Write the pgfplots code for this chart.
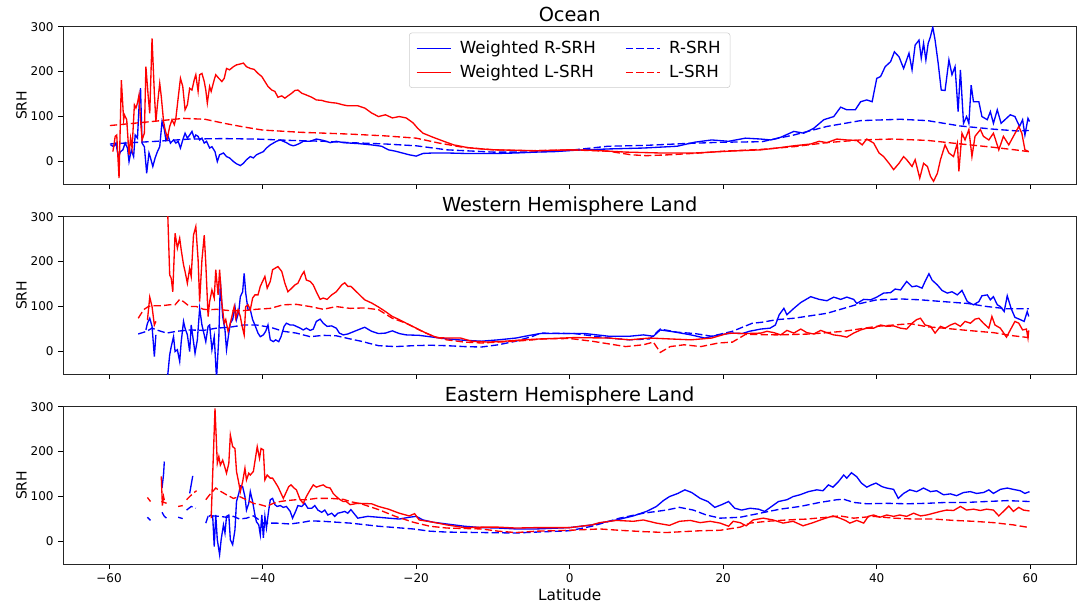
\documentclass[border=0pt]{standalone}
\usepackage{fontspec}
\setmainfont{DejaVu Sans}
\usepackage{pgfplots}
\pgfplotsset{compat=1.18}

\tikzset{
  srhWR/.style={blue, line width=1pt, solid},
  srhWL/.style={red, line width=1pt, solid},
  srhR/.style={blue, line width=1pt, dash pattern=on 5.5pt off 2.4pt},
  srhL/.style={red, line width=1pt, dash pattern=on 5.5pt off 2.4pt},
}
\pgfplotsset{
  srh/.style={
    scale only axis, width=760pt, height=118pt,
    xmin=-66, xmax=66, ymin=-50, ymax=300,
    xtick={-60,-40,-20,0,20,40,60},
    ytick={0,100,200,300}, yticklabels={0,100,200,300},
    tick align=outside, xtick pos=bottom, ytick pos=left,
    major tick length=3.5pt,
    tick style={black, line width=0.6pt},
    axis line style={black!85, line width=0.6pt},
    tick label style={font=\fontsize{9}{10}\selectfont},
    ylabel={SRH}, ylabel style={font=\fontsize{10.5}{12}\selectfont}, ylabel shift=-4pt,
    every axis title/.style={at={(0.5,1)}, anchor=base, yshift=4pt,
      font=\fontsize{14.5}{16}\selectfont},
    unbounded coords=jump,
  },
}

\begin{document}
\begin{tikzpicture}
\useasboundingbox (-47.25pt,20pt) rectangle (761.25pt,-432.25pt);

% Ocean
\begin{axis}[srh, at={(0pt,0pt)}, anchor=north west, title={Ocean}, xticklabels={},
  legend columns=2, legend cell align=left,
  legend image code/.code={\draw[#1] (0pt,0pt) -- (26pt,0pt);},
  legend style={at={(0.5,0.962)}, anchor=north, draw=black!20, rounded corners=2pt,
    font=\fontsize{12.5}{14}\selectfont, inner xsep=5pt, inner ysep=4pt, row sep=3pt,
    /tikz/every odd column/.append style={column sep=4pt},
    /tikz/every even column/.append style={column sep=20pt}}]
\addplot[srhWR] coordinates {
(-59.8,37) (-59.4,33) (-59.1,41) (-58.8,11) (-58.5,22) (-58.2,26) (-57.9,41) (-57.6,30) (-57.4,0) (-57.1,26) (-56.8,11) (-56.6,59) (-56.3,52) (-56.1,120) (-55.9,163) (-55.7,41) (-55.4,33) (-55.1,-26) (-54.8,19) (-54.6,8) (-54.3,-11) (-54.0,8) (-53.7,22) (-53.4,33) (-53.1,89) (-52.8,71) (-52.6,48) (-52.3,56) (-52.0,41) (-51.6,48) (-51.3,41) (-51.0,45) (-50.7,30) (-50.4,48) (-50.1,63) (-49.8,52) (-49.5,59) (-49.2,67) (-48.9,52) (-48.7,59) (-48.4,56) (-48.2,48) (-47.9,52) (-47.6,41) (-47.3,45) (-46.9,30) (-46.6,33) (-46.2,22) (-45.9,0) (-45.6,15) (-45.1,19) (-44.7,11) (-44.3,8) (-43.8,0) (-43.4,-5) (-42.9,-9) (-42.5,-4) (-42.1,4) (-41.6,11) (-41.2,8) (-40.8,15) (-40.3,19) (-39.9,22) (-39.5,30) (-39.0,37) (-38.6,41) (-38.2,45) (-37.7,48) (-37.3,45) (-36.9,42) (-36.4,37) (-36.0,35) (-35.6,37) (-35.1,41) (-34.7,45) (-33.8,45) (-33.0,50) (-32.1,47) (-31.2,42) (-30.4,45) (-29.5,42) (-28.6,41) (-27.6,40) (-25.8,37) (-24.5,34) (-23.6,26) (-22.7,23) (-21.8,19) (-20.9,15) (-20.0,12) (-19.1,18) (-17.8,19) (-16.0,19) (-13.7,18) (-11.5,18) (-9.3,18) (-7.0,19) (-4.3,21) (-2,22) (0.6,25) (5.1,28) (9.6,30) (14.0,34) (16.3,43) (18.5,48) (20.7,45) (22.9,52) (24.9,50) (26.2,48) (27.5,54) (29.2,67) (30.5,63) (31.8,74) (33.1,93) (34.4,100) (35.3,121) (36.1,115) (37.2,115) (37.9,133) (38.7,137) (39.4,133) (40.0,185) (40.5,189) (41.1,211) (41.8,222) (42.3,244) (42.9,233) (43.5,207) (44.2,241) (44.6,204) (45.0,259) (45.5,270) (45.8,230) (46.1,263) (46.4,226) (46.7,263) (47.0,278) (47.3,299) (47.6,270) (48.0,219) (48.4,159) (48.9,158) (49.4,226) (49.8,193) (50.2,211) (50.6,111) (50.9,204) (51.3,85) (51.7,100) (52.0,85) (52.3,170) (52.6,133) (53.3,133) (53.7,100) (54.4,93) (54.8,111) (55.2,85) (55.7,115) (56.2,85) (56.7,93) (57.4,104) (58.0,100) (58.6,78) (59.0,93) (59.3,59) (59.7,96) (59.9,89)
};
\addlegendentry{Weighted R-SRH}
\addplot[srhR] coordinates {
(-59.9,39) (-57,42) (-53.8,45) (-49.5,50) (-45.1,51) (-40.8,50) (-36.4,47) (-32,45) (-28.6,42) (-24,39) (-20,35) (-16,26) (-10,21) (-5,21) (0,25) (5,34) (10,36) (15,40) (20,43) (25,44) (29.2,59) (33.5,78) (37.9,91) (43.1,94) (46.6,91) (50.9,79) (55.2,72) (58.3,68) (59.8,69)
};
\addlegendentry{R-SRH}
\addplot[srhWL] coordinates {
(-59.5,22) (-59.2,56) (-59.0,59) (-58.7,-37) (-58.4,181) (-58.1,93) (-58.0,104) (-57.7,93) (-57.4,15) (-57.2,52) (-57.0,30) (-56.7,126) (-56.5,119) (-56.3,130) (-56.1,148) (-55.9,93) (-55.7,48) (-55.4,63) (-55.2,211) (-54.9,145) (-54.7,107) (-54.4,274) (-54.1,152) (-53.9,89) (-53.7,126) (-53.4,174) (-53.2,145) (-52.9,89) (-52.7,71) (-52.4,52) (-52.1,78) (-51.8,93) (-51.5,82) (-51.3,96) (-51.0,141) (-50.7,185) (-50.4,167) (-50.1,115) (-49.8,126) (-49.5,163) (-49.2,159) (-48.9,182) (-48.7,193) (-48.4,156) (-48.2,193) (-47.9,196) (-47.6,178) (-47.4,159) (-47.2,130) (-46.9,167) (-46.7,156) (-46.3,182) (-46.1,193) (-45.7,185) (-45.3,178) (-45.0,185) (-44.7,207) (-44.3,204) (-43.8,211) (-43.4,215) (-42.9,217) (-42.5,219) (-42.1,211) (-41.6,207) (-41.1,205) (-40.6,196) (-40.1,189) (-39.7,178) (-39.3,167) (-38.8,159) (-38.4,156) (-38.0,143) (-37.5,146) (-37.1,141) (-36.7,146) (-36.2,152) (-35.8,158) (-35.4,159) (-34.9,152) (-34.3,148) (-33.6,143) (-33.0,137) (-32.3,136) (-31.7,133) (-31.0,131) (-30.4,130) (-29.5,126) (-28.9,124) (-27.6,124) (-26.7,119) (-25.8,108) (-24.9,100) (-24.0,104) (-23.1,97) (-22.2,100) (-21.3,97) (-20.4,86) (-19.8,74) (-19.1,63) (-17.8,54) (-16.4,45) (-15.1,37) (-13.3,31) (-11.5,28) (-9.7,26) (-7.0,25) (-4.3,24) (0,26) (2.9,25) (7.3,21) (11.8,19) (16.3,19) (20.7,23) (24.9,26) (27.0,30) (29.2,35) (31.4,39) (32.5,45) (33.5,42) (34.8,50) (36.1,48) (37.4,47) (38.1,37) (38.7,50) (39.6,41) (40.3,19) (40.9,11) (41.6,-4) (42.2,-18) (42.9,-4) (43.5,11) (43.9,4) (44.6,-11) (45.0,4) (45.6,-37) (46.1,-4) (46.6,-11) (47.0,-33) (47.4,-44) (47.9,-26) (48.3,4) (48.9,37) (49.4,19) (50.0,11) (50.5,41) (50.7,-22) (51.1,63) (51.5,48) (52.0,71) (52.4,11) (52.8,56) (53.5,71) (53.9,56) (54.6,48) (55.2,63) (55.9,26) (56.5,56) (57.2,37) (57.8,56) (58.5,78) (58.9,63) (59.3,26) (59.8,22)
};
\addlegendentry{Weighted L-SRH}
\addplot[srhL] coordinates {
(-59.9,80) (-55,88) (-50.3,96) (-47.5,94) (-45,85) (-42.5,77) (-40,70) (-35,65) (-28.6,61) (-24,57) (-20,52) (-17,41) (-14,32) (-10,26) (-5,24) (0,26) (5,23) (8,15) (10,13) (13,15) (17,19) (20,23) (25,27) (29.2,33) (33.5,42) (37.9,48) (42,50) (46.6,47) (51,39) (55,32) (58,26) (59.8,22)
};
\addlegendentry{L-SRH}
\end{axis}

% Western Hemisphere Land
\begin{axis}[srh, at={(0pt,-142.5pt)}, anchor=north west, title={Western Hemisphere Land}, xticklabels={}]
\addplot[srhWR] coordinates {
(-55.2,48) (-55.0,63) (-54.7,74) (-54.4,56) (-54.1,-11) (-53.9,37) (-53.5,nan)
(-52.4,-60) (-52.1,-7) (-51.9,11) (-51.6,33) (-51.4,0) (-51.1,4) (-50.8,-22) (-50.6,22) (-50.3,67) (-50.1,52) (-49.8,37) (-49.5,0) (-49.3,59) (-49.0,22) (-48.8,-4) (-48.5,26) (-48.2,96) (-47.9,59) (-47.6,37) (-47.4,22) (-47.1,56) (-46.9,59) (-46.6,4) (-46.3,33) (-46.0,-60) (-45.7,33) (-45.5,156) (-45.2,78) (-44.9,48) (-44.7,4) (-44.4,41) (-44.2,63) (-43.9,71) (-43.6,100) (-43.4,71) (-43.1,89) (-42.9,122) (-42.6,133) (-42.4,174) (-42.2,130) (-41.9,93) (-41.6,93) (-41.3,71) (-41.0,59) (-40.6,41) (-40.3,33) (-39.9,37) (-39.6,45) (-39.3,59) (-39.0,26) (-38.6,22) (-38.3,26) (-37.9,22) (-37.6,33) (-37.2,56) (-36.9,63) (-36.4,59) (-36.0,59) (-35.6,56) (-35.1,52) (-34.7,48) (-34.3,52) (-33.8,47) (-33.4,50) (-33.0,67) (-32.5,72) (-32.1,63) (-31.6,56) (-31.0,57) (-30.4,52) (-30.0,41) (-29.5,37) (-28.9,39) (-27.6,48) (-26.7,54) (-25.8,45) (-24.9,40) (-24.0,41) (-23.1,46) (-22.2,40) (-21.3,37) (-19.6,36) (-17.8,32) (-16.0,28) (-13.7,25) (-11.5,23) (-9.3,26) (-7.0,30) (-5.2,36) (-3.8,40) (-1.2,40) (2.0,40) (5.1,34) (7.8,34) (9.6,37) (10.9,34) (11.8,48) (13.1,45) (14.5,41) (15.8,37) (17.6,30) (19.4,37) (21.2,41) (22.5,40) (23.4,45) (24.9,50) (26.1,52) (26.8,59) (27.3,82) (27.9,96) (28.3,82) (29.2,96) (30.1,109) (31.4,122) (32.5,116) (33.5,113) (34.4,121) (35.3,116) (36.1,121) (37.0,116) (37.4,107) (38.3,116) (39.2,115) (40.0,121) (40.9,130) (41.8,131) (42.4,139) (43.1,137) (43.9,156) (44.6,144) (45.2,146) (45.9,141) (46.3,156) (46.8,173) (47.2,159) (47.9,148) (48.5,136) (49.2,130) (49.8,133) (50.5,126) (51.1,136) (51.8,111) (52.6,104) (53.3,111) (53.7,124) (54.4,126) (54.8,115) (55.2,122) (55.7,104) (56.1,100) (56.6,89) (57.0,124) (57.5,96) (58.0,76) (58.7,71) (59.2,67) (59.6,89) (59.8,78)
};
\addplot[srhR] coordinates {
(-56.2,39) (-55.1,45) (-54.4,52) (-53.8,48) (-52.5,41) (-51.2,45) (-49.5,48) (-47.7,47) (-46.0,52) (-44.3,54) (-42.5,59) (-40.8,59) (-39.0,54) (-37.3,45) (-35.6,41) (-33.8,33) (-32.1,36) (-30.4,35) (-28.6,28) (-27.2,23) (-24.9,13) (-22.7,11) (-20.4,13) (-18.2,14) (-16.0,13) (-13.7,11) (-11.5,10) (-9.3,15) (-7.0,23) (-4.8,34) (-3.8,41) (0.6,40) (5.1,30) (7.8,26) (10.4,28) (11.8,50) (14.0,43) (16.3,40) (18.5,34) (21.2,45) (23.8,63) (25,65) (27.0,71) (29.2,74) (33.5,85) (35.7,96) (37.9,107) (40.0,115) (43.1,117) (45.7,115) (48.7,111) (51.8,107) (54.4,100) (57.0,95) (59.8,95)
};
\addplot[srhWL] coordinates {
(-55.0,70) (-54.7,121) (-54.4,100) (-54.1,59) (-53.9,67) (-53.5,nan)
(-52.4,330) (-52.1,170) (-51.9,163) (-51.7,133) (-51.4,263) (-51.1,230) (-50.8,252) (-50.6,226) (-50.3,193) (-50.1,178) (-49.8,152) (-49.5,185) (-49.3,167) (-49.0,259) (-48.7,278) (-48.4,204) (-48.2,111) (-47.9,204) (-47.6,259) (-47.4,196) (-47.1,78) (-46.9,111) (-46.6,137) (-46.3,119) (-46.1,182) (-45.8,126) (-45.6,182) (-45.3,107) (-45.0,63) (-44.8,71) (-44.5,45) (-44.3,56) (-44.0,78) (-43.7,100) (-43.5,74) (-43.2,93) (-42.9,78) (-42.7,59) (-42.4,37) (-42.2,100) (-41.9,104) (-41.6,93) (-41.3,119) (-41.0,126) (-40.6,126) (-40.3,145) (-40.0,156) (-39.7,167) (-39.4,141) (-39.0,156) (-38.7,182) (-38.4,185) (-38.0,189) (-37.5,178) (-37.1,152) (-36.7,133) (-36.2,141) (-35.8,148) (-35.4,152) (-34.9,170) (-34.6,178) (-34.3,159) (-33.8,156) (-33.4,148) (-33.0,133) (-32.5,116) (-32.1,119) (-31.6,116) (-31.0,126) (-30.4,133) (-29.7,148) (-29.3,153) (-28.9,145) (-28.5,145) (-27.6,130) (-26.7,115) (-25.8,108) (-24.9,99) (-24.0,89) (-23.1,78) (-22.2,71) (-21.3,63) (-20.0,52) (-18.7,41) (-17.3,31) (-16.0,30) (-14.2,30) (-12.8,23) (-10.6,21) (-8.4,23) (-6.1,26) (-3.8,28) (0.6,31) (5.1,30) (7.8,26) (10.4,30) (13.1,28) (15.8,26) (18.5,30) (20.7,41) (22.9,40) (24.9,41) (25.7,45) (26.6,42) (27.5,37) (28.3,47) (29.2,41) (30.1,50) (30.9,42) (31.8,39) (32.7,47) (33.5,42) (34.4,37) (35.3,35) (36.1,32) (37.0,41) (37.9,48) (38.7,52) (39.6,52) (40.5,59) (41.3,56) (42.2,57) (43.1,52) (43.9,50) (44.6,63) (45.2,71) (45.7,74) (46.3,59) (47.0,56) (47.6,41) (48.3,56) (48.9,52) (49.6,59) (50.2,63) (50.9,56) (51.5,67) (52.2,63) (52.8,72) (53.3,74) (53.9,63) (54.6,52) (55.0,78) (55.4,59) (56.1,52) (56.9,32) (57.4,48) (58.0,67) (58.5,63) (59.0,48) (59.5,50) (59.7,30) (59.8,47)
};
\addplot[srhL] coordinates {
(-56.2,74) (-55.5,93) (-54.9,100) (-54.0,102) (-53.1,102) (-52.1,104) (-51.4,104) (-50.8,116) (-50.3,111) (-49.5,100) (-48.6,100) (-47.7,94) (-46.9,93) (-46.0,94) (-44.3,91) (-42.5,91) (-40.8,94) (-39.0,96) (-37.3,104) (-35.6,105) (-33.8,100) (-32.1,94) (-30.4,100) (-28.6,96) (-26.7,97) (-24.9,93) (-23.1,74) (-21.3,63) (-19.6,48) (-17.8,34) (-16.0,26) (-13.7,21) (-11.5,19) (-9.3,21) (-7.0,23) (-4.8,26) (-3.8,28) (0,29) (2.9,23) (5.1,17) (7.3,11) (9.6,15) (10.9,21) (11.8,-2) (13.1,11) (14.9,15) (17.1,11) (19.4,19) (21.2,21) (22.9,38) (24,38) (27.0,37) (31.4,39) (35.7,45) (40.0,56) (44.4,62) (46.6,55) (48.7,52) (51.8,47) (55.2,42) (57.8,35) (59.8,31)
};
\end{axis}

% Eastern Hemisphere Land
\begin{axis}[srh, at={(0pt,-285pt)}, anchor=north west, title={Eastern Hemisphere Land},
  xticklabels={−60,−40,−20,0,20,40,60},
  xlabel={Latitude}, xlabel style={font=\fontsize{11.5}{13}\selectfont, yshift=2pt}]
\addplot[srhWR] coordinates {
(-53.1,119) (-52.9,150) (-52.8,178) (-52.0,nan)
(-49.5,107) (-49.1,146) (-48.0,nan)
(-47.0,56) (-46.7,59) (-46.5,56) (-46.3,-11) (-46.1,59) (-45.9,4) (-45.6,-29) (-45.4,4) (-45.1,37) (-44.9,19) (-44.7,56) (-44.4,59) (-44.2,4) (-43.9,-7) (-43.6,26) (-43.4,89) (-43.1,107) (-42.9,124) (-42.6,122) (-42.3,100) (-42.1,70) (-41.8,85) (-41.6,111) (-41.3,89) (-41.0,59) (-40.8,44) (-40.5,37) (-40.3,15) (-40.1,59) (-39.9,8) (-39.7,56) (-39.5,30) (-39.2,70) (-39.0,93) (-38.7,96) (-38.4,82) (-38.1,78) (-37.7,80) (-37.3,76) (-36.9,78) (-36.4,67) (-36.1,52) (-35.7,67) (-35.4,80) (-34.9,78) (-34.5,85) (-34.1,74) (-33.6,74) (-33.2,80) (-32.8,70) (-32.3,65) (-31.9,70) (-31.5,59) (-31.0,63) (-30.6,56) (-30.2,63) (-29.7,65) (-29.3,67) (-28.9,63) (-28.5,71) (-27.6,52) (-26.3,56) (-24.9,54) (-23.6,52) (-22.2,50) (-20.9,54) (-20.0,56) (-19.1,48) (-17.8,43) (-16.0,39) (-13.7,34) (-11.5,31) (-9.3,30) (-7.0,28) (-4.3,28) (0,31) (2.9,37) (3.9,41) (6.1,48) (8.3,57) (10.0,67) (11.3,78) (12.2,91) (13.0,100) (14.1,107) (15.0,115) (15.9,109) (17.0,96) (18.0,89) (18.9,76) (19.8,82) (20.7,89) (21.5,74) (22.4,70) (23.5,74) (24.6,72) (25.4,67) (26.3,78) (27.2,89) (28.3,93) (29.1,100) (30.0,104) (31.1,111) (32.2,115) (33.0,113) (33.7,126) (34.3,121) (35.0,133) (35.7,148) (36.1,141) (36.7,153) (37.4,144) (38.0,130) (38.7,121) (39.3,126) (39.9,130) (40.7,122) (41.3,119) (42.2,116) (42.8,96) (43.5,107) (44.3,115) (45.2,111) (46.1,119) (47.0,111) (47.8,113) (48.7,104) (49.6,106) (50.4,102) (51.3,109) (52.2,111) (53.0,107) (53.9,109) (54.6,115) (55.2,107) (56.1,116) (57.0,119) (57.8,116) (58.7,113) (59.3,107) (59.9,111)
};
\addplot[srhR] coordinates {
(-55.0,54) (-54.6,47) (-54.0,nan)
(-53.1,65) (-52.8,56) (-52.5,52) (-52.0,nan)
(-51.0,54) (-50.4,51) (-50.2,nan)
(-49.9,70) (-49.3,78) (-48.7,74) (-48.0,nan)
(-47.4,41) (-47.1,56) (-46.4,57) (-45.6,56) (-44.7,54) (-43.8,56) (-43.0,50) (-42.1,52) (-41.2,57) (-40.6,50) (-39.9,41) (-38.2,41) (-36.4,39) (-34.7,43) (-33.8,46) (-32.1,45) (-30.4,43) (-28.6,41) (-27,38) (-24.9,34) (-20.4,28) (-18.2,23) (-16.0,21) (-11.5,20) (-7.0,19) (-4.3,21) (0,24) (2.9,34) (3.9,39) (6.5,52) (9.6,63) (12.6,70) (14.3,76) (16.1,70) (17.8,59) (19.6,52) (22.2,54) (24.8,63) (27.4,72) (30.0,78) (32.6,87) (34.8,93) (35.7,94) (37.0,87) (38.7,84) (41.3,85) (43.9,84) (46.5,85) (49.1,87) (51.7,87) (54.3,89) (57.0,91) (59.9,89)
};
\addplot[srhWL] coordinates {
(-53.2,145) (-53.05,80) (-52.9,100) (-52.8,92) (-52.0,nan)
(-46.7,52) (-46.2,296) (-45.9,174) (-45.7,189) (-45.5,170) (-45.2,181) (-45.0,170) (-44.7,152) (-44.4,174) (-44.2,237) (-43.9,211) (-43.6,207) (-43.4,156) (-43.1,130) (-42.9,111) (-42.6,133) (-42.3,163) (-42.1,137) (-41.8,152) (-41.6,148) (-41.2,156) (-41.0,178) (-40.7,211) (-40.4,185) (-40.2,207) (-39.9,204) (-39.7,137) (-39.4,148) (-39.0,141) (-38.7,141) (-38.4,133) (-38.0,122) (-37.7,111) (-37.3,96) (-37.0,107) (-36.6,122) (-36.3,126) (-35.9,119) (-35.6,115) (-35.1,93) (-34.7,85) (-34.3,100) (-33.8,115) (-33.4,126) (-33.0,121) (-32.5,124) (-32.1,126) (-31.7,121) (-31.2,119) (-30.8,107) (-30.4,100) (-29.9,93) (-29.5,89) (-29.1,89) (-28.6,82) (-27.6,85) (-25.8,84) (-24.9,78) (-23.6,72) (-22.2,63) (-20.9,57) (-20.2,62) (-19.6,48) (-17.8,43) (-16.0,37) (-13.7,31) (-11.5,32) (-9.3,32) (-7.0,30) (-4.3,31) (0,31) (2.9,37) (3.9,42) (6.1,47) (8.3,45) (9.6,48) (11.3,41) (13.0,36) (14.3,45) (15.7,47) (17.0,42) (18.3,45) (19.6,41) (20.7,34) (21.3,45) (22.2,42) (23.0,35) (23.9,48) (25.2,52) (26.5,48) (27.8,41) (29.1,45) (30.4,35) (31.7,42) (33.0,50) (34.3,57) (35.2,52) (35.9,47) (36.5,41) (37.4,47) (38.3,41) (38.9,56) (39.6,59) (40.4,54) (41.3,59) (42.2,56) (43.0,59) (43.9,56) (44.8,63) (45.7,57) (46.5,59) (47.4,63) (48.3,67) (49.1,70) (50.0,69) (50.9,78) (51.7,70) (52.6,72) (53.5,69) (54.3,72) (55.2,70) (55.9,57) (56.5,67) (57.2,79) (57.8,67) (58.5,76) (59.1,70) (59.9,68)
};
\addplot[srhL] coordinates {
(-55.0,98) (-54.6,89) (-54.0,nan)
(-53.2,89) (-52.5,85) (-52.0,nan)
(-51.0,78) (-50.4,80) (-50.2,nan)
(-49.9,93) (-49.5,100) (-49.0,108) (-48.6,113) (-48.0,nan)
(-47.4,93) (-46.9,104) (-46.1,119) (-45.6,113) (-44.7,104) (-43.8,96) (-43.0,100) (-42.1,93) (-41.2,85) (-40.3,82) (-39.5,78) (-38.6,85) (-37.7,89) (-36.9,91) (-35.6,93) (-34.3,93) (-33.0,96) (-31.2,96) (-29.5,94) (-28.6,89) (-27,83) (-24.9,71) (-22.7,56) (-20.4,43) (-18.2,34) (-16.0,30) (-11.5,28) (-9.3,23) (-7.0,20) (-4.3,23) (0,25) (3.9,28) (6.5,25) (9.6,22) (12.6,20) (14.8,22) (17.0,24) (19.6,25) (22.2,32) (23.5,41) (25.7,45) (28.3,48) (30.9,50) (33.5,54) (35.2,57) (37.0,52) (39.6,56) (42.2,52) (44.8,50) (47.4,50) (50.0,47) (52.6,45) (55.2,42) (57.8,37) (59.9,31)
};
\end{axis}
\end{tikzpicture}
\end{document}
